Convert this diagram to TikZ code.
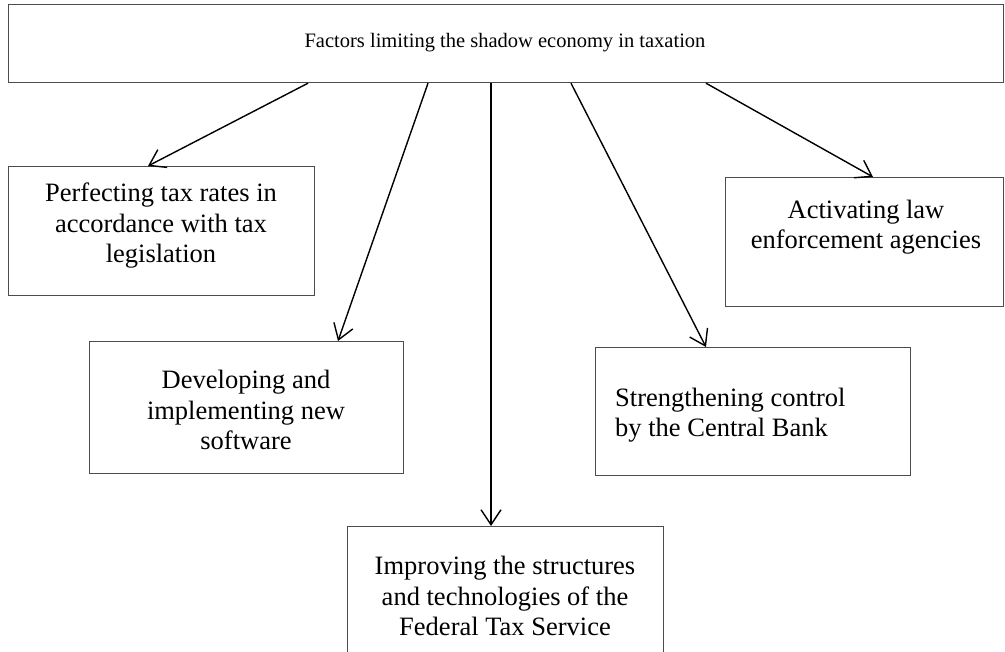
\documentclass[tikz,border=0pt]{standalone}
\usepackage{fontspec}
\setmainfont{Liberation Serif}
\usetikzlibrary{arrows.meta,calc}
\begin{document}
\begin{tikzpicture}[x=1pt,y=-1pt,
  boxstyle/.style={draw=black!70,line width=1.2pt,rectangle,inner sep=0pt,anchor=north west},
  txt/.style={font=\fontsize{26.5}{30.5}\selectfont,align=center,inner sep=0pt},
  arr/.style={draw=black,line width=1.4pt,-{Straight Barb[length=15pt,width=20pt,line width=1.4pt]}}]
\clip (0,0) rectangle (1005,652);
\fill[white] (0,0) rectangle (1005,652);
% boxes
\node[boxstyle,minimum width=995pt,minimum height=78pt] (top) at (8,4) {};
\node[boxstyle,minimum width=306pt,minimum height=129pt] (b1) at (8,166) {};
\node[boxstyle,minimum width=314pt,minimum height=132pt] (b2) at (89,341) {};
\node[boxstyle,minimum width=316pt,minimum height=140pt] (b3) at (347,526) {};
\node[boxstyle,minimum width=315pt,minimum height=128pt] (b4) at (595,347) {};
\node[boxstyle,minimum width=278pt,minimum height=129pt] (b5) at (725,177) {};
% texts
\node[txt,font=\fontsize{20.5}{24}\selectfont] (t0) at (505,43) {Factors limiting the shadow economy in taxation};
\node[txt] (t1) at (161,226) {Perfecting tax rates in\\accordance with tax\\legislation};
\node[txt] (t2) at (246,410) {Developing and\\implementing new\\software};
\node[txt] (t3) at (505,596) {Improving the structures\\and technologies of the\\Federal Tax Service};
\node[txt,align=left,anchor=west] (t4) at (615,415) {Strengthening control\\by the Central Bank};
\node[txt] (t5) at (866,227) {Activating law\\enforcement agencies};
% arrows
\draw[arr] ($(top.south west)+(300,0)$) -- ($(b1.north west)+(140,0)$);
\draw[arr] ($(top.south west)+(420,0)$) -- ($(b2.north west)+(249,0)$);
\draw[arr] ($(top.south west)+(483,0)$) -- ($(b3.north west)+(144,0)$);
\draw[arr] ($(top.south west)+(563,0)$) -- ($(b4.north west)+(111,0)$);
\draw[arr] ($(top.south west)+(698,0)$) -- ($(b5.north west)+(148,0)$);
\end{tikzpicture}
\end{document}
